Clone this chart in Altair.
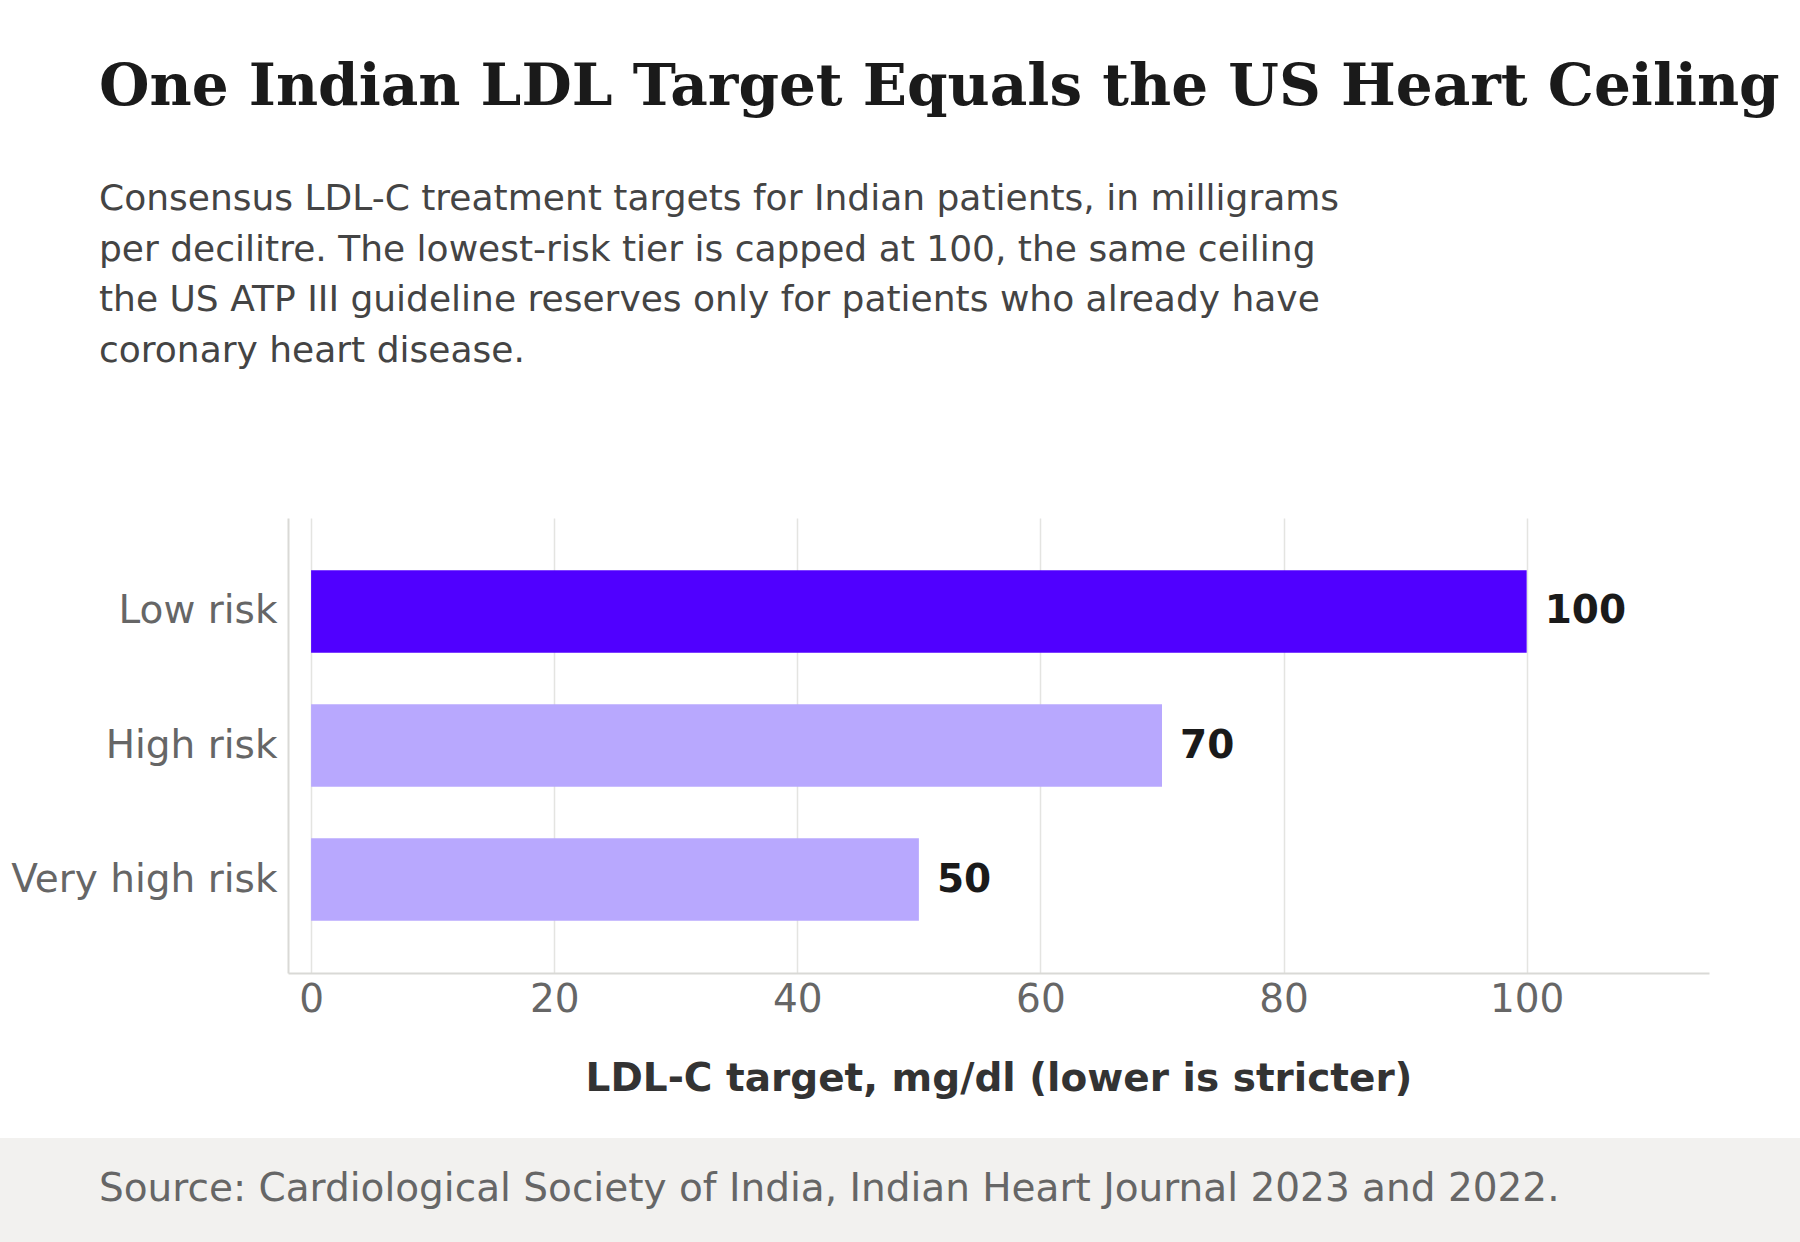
import altair as alt
import pandas as pd

# LDL-C treatment targets by risk tier (mg/dl)
categories = ["Low risk", "High risk", "Very high risk"]
targets = [100, 70, 50]
tier_role = ["Same as US CHD ceiling", "Stricter", "Stricter"]

role_domain = ["Same as US CHD ceiling", "Stricter"]
role_colors = ["#5000ff", "#b8a8fe"]

x_ticks = [0, 20, 40, 60, 80, 100]

title_text = "One Indian LDL Target Equals the US Heart Ceiling"
subtitle_lines = [
    "Consensus LDL-C treatment targets for Indian patients, in milligrams",
    "per decilitre. The lowest-risk tier is capped at 100, the same ceiling",
    "the US ATP III guideline reserves only for patients who already have",
    "coronary heart disease.",
]
source_text = "Source: Cardiological Society of India, Indian Heart Journal 2023 and 2022."
x_title = "LDL-C target, mg/dl (lower is stricter)"

df = pd.DataFrame({"tier": categories, "target": targets, "role": tier_role})

# Page geometry: plot area sits inside fixed padding
PAGE_W, PAGE_H = 1800, 1242
LEFT, TOP = 288, 518
PLOT_W, PLOT_H = 1421, 455
RIGHT = PAGE_W - LEFT - PLOT_W
BOTTOM = PAGE_H - TOP - PLOT_H
FONT = "DejaVu Sans"

x_scale = alt.Scale(domain=[-1.9, 115], nice=False, zero=False)
y_scale = alt.Scale(domain=categories, paddingInner=0.385, paddingOuter=0.39)

x_axis = alt.Axis(
    values=x_ticks,
    title=x_title,
    labelFontSize=39,
    labelColor="#666666",
    labelFont=FONT,
    labelPadding=7,
    ticks=False,
    domainColor="#d9d9d6",
    domainWidth=2,
    grid=True,
    gridColor="#e4e4e1",
    gridWidth=1.5,
    titleFont=FONT,
    titleFontSize=39,
    titleFontWeight="bold",
    titleColor="#333333",
    titlePadding=40,
)
y_axis = alt.Axis(
    title=None,
    labelFontSize=39,
    labelColor="#666666",
    labelFont=FONT,
    labelPadding=11,
    labelLimit=0,
    ticks=False,
    grid=False,
    domainColor="#d9d9d6",
    domainWidth=2,
)

base = alt.Chart(df)

bars = base.mark_bar().encode(
    x=alt.X("target:Q", scale=x_scale, axis=x_axis),
    x2=alt.datum(0),
    y=alt.Y("tier:N", sort=categories, scale=y_scale, axis=y_axis),
    color=alt.Color("role:N", scale=alt.Scale(domain=role_domain, range=role_colors), legend=None),
)

values = base.mark_text(
    align="left", baseline="middle", dx=18, fontSize=39, fontWeight="bold",
    color="#1a1a1a", font=FONT,
).encode(
    x=alt.X("target:Q", scale=x_scale),
    y=alt.Y("tier:N", sort=categories, scale=y_scale),
    text=alt.Text("target:Q"),
)

title = alt.Chart(pd.DataFrame({"t": [title_text]})).mark_text(
    align="left", baseline="alphabetic", font="DejaVu Serif", fontSize=58,
    fontWeight="bold", color="#1a1a1a",
).encode(x=alt.value(99 - LEFT), y=alt.value(105 - TOP), text="t:N")

subtitle = alt.Chart(pd.DataFrame({"t": ["\n".join(subtitle_lines)]})).mark_text(
    align="left", baseline="alphabetic", font=FONT, fontSize=36,
    color="#444444", lineBreak="\n", lineHeight=50.5,
).encode(x=alt.value(99 - LEFT), y=alt.value(210 - TOP), text="t:N")

footer_band = alt.Chart(pd.DataFrame({"t": [0]})).mark_rect(color="#f2f1ef").encode(
    x=alt.value(-LEFT), x2=alt.value(PAGE_W - LEFT),
    y=alt.value(1138 - TOP), y2=alt.value(PAGE_H - TOP),
)

footer = alt.Chart(pd.DataFrame({"t": [source_text]})).mark_text(
    align="left", baseline="alphabetic", font=FONT, fontSize=39, color="#666666",
).encode(x=alt.value(99 - LEFT), y=alt.value(1201 - TOP), text="t:N")

chart = alt.layer(footer_band, bars, values, title, subtitle, footer).properties(
    width=PLOT_W,
    height=PLOT_H,
    autosize=alt.AutoSizeParams(type="none"),
    padding={"left": LEFT, "top": TOP, "right": RIGHT, "bottom": BOTTOM},
    background="#ffffff",
).configure_view(stroke=None)

chart.save("out.html", embed_options={"renderer": "svg", "actions": False})
